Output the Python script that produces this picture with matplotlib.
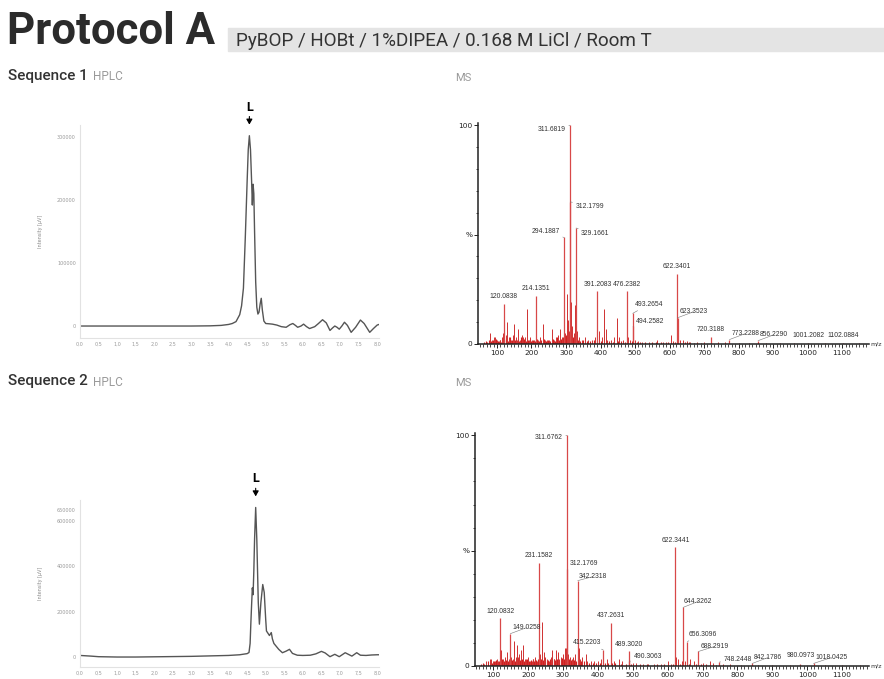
import matplotlib
matplotlib.use("Agg")
import matplotlib.pyplot as plt
import matplotlib.ticker as mticker
from matplotlib.patches import Rectangle

# ---- HPLC traces (retention time [min], intensity [uV]) ----
HPLC1_T = [0.0, 0.5, 1.0, 1.5, 2.0, 2.5, 3.0, 3.5, 3.8, 4.0, 4.1, 4.2, 4.3, 4.35, 4.4,
           4.45, 4.5, 4.53, 4.56, 4.59, 4.62, 4.64, 4.66, 4.68, 4.7, 4.73, 4.76, 4.79,
           4.82, 4.85, 4.88, 4.91, 4.95, 5.0, 5.1, 5.18, 5.3, 5.42, 5.55, 5.65, 5.73,
           5.8, 5.86, 5.95, 6.02, 6.1, 6.18, 6.25, 6.32, 6.42, 6.53, 6.63, 6.73, 6.8,
           6.86, 6.92, 6.98, 7.05, 7.12, 7.2, 7.3, 7.42, 7.55, 7.65, 7.8, 7.9, 8.0, 8.05]
HPLC1_I = [0, 0, 0, 0, 0, 0, 0, 300, 1000, 2500, 4000, 7000, 18000, 32000, 60000,
           140000, 230000, 280000, 302000, 280000, 230000, 192000, 225000, 210000, 150000,
           70000, 30000, 19000, 22000, 35000, 44000, 25000, 8000, 4000, 3500, 3000, 1500,
           -1000, -2000, 2000, 4000, 1000, -2000, 0, 3000, -1000, -4000, -2500, -1000, 4000,
           10000, 5000, -7000, -3000, 0, -2000, -5000, 0, 6000, 1000, -10000, -2000, 9500,
           4000, -10000, -4000, 1500, 2500]

HPLC2_T = [0.0, 0.3, 0.5, 1.0, 1.5, 2.0, 2.5, 3.0, 3.5, 4.0, 4.3, 4.5, 4.55, 4.58, 4.6,
           4.62, 4.64, 4.66, 4.68, 4.7, 4.73, 4.76, 4.8, 4.83, 4.87, 4.92, 4.96, 5.0,
           5.02, 5.06, 5.1, 5.15, 5.18, 5.22, 5.27, 5.35, 5.45, 5.55, 5.64, 5.72, 5.85,
           6.0, 6.2, 6.35, 6.5, 6.6, 6.73, 6.86, 6.98, 7.14, 7.32, 7.45, 7.55, 7.7, 7.85,
           8.0, 8.05]
HPLC2_I = [7000, 4000, 1500, 0, 0, 1000, 2000, 3000, 5000, 7000, 10000, 15000, 20000,
           60000, 150000, 230000, 305000, 275000, 380000, 520000, 660000, 520000, 240000,
           145000, 240000, 320000, 285000, 165000, 115000, 105000, 95000, 108000, 80000,
           60000, 50000, 34000, 19000, 26000, 34000, 16000, 8000, 7000, 8000, 14000,
           25000, 18000, 1500, 12000, 1500, 19000, 4000, 19000, 8000, 7000, 9000, 10000,
           10000]

HPLC_XTICKS = [0.0, 0.5, 1.0, 1.5, 2.0, 2.5, 3.0, 3.5, 4.0, 4.5, 5.0, 5.5, 6.0, 6.5,
               7.0, 7.5, 8.0]
HPLC1_YTICKS = [0, 100000, 200000, 300000]
HPLC2_YTICKS = [0, 200000, 400000, 600000, 650000]
HPLC1_PEAK = (4.56, 302000)
HPLC2_PEAK = (4.73, 660000)

# ---- MS spectra (m/z, relative intensity %) ----
MS1_LAB_MZ = [120.0838, 214.1351, 294.1887, 311.6819, 312.1799, 329.1661, 391.2083,
              476.2382, 493.2654, 494.2582, 622.3401, 623.3523, 720.3188, 773.2288,
              856.2290, 1001.2082, 1102.0884]
MS1_LAB_INT = [18.5, 22, 48.7, 100, 65, 53, 24.4, 24, 14, 8, 32, 12, 3, 2, 1.5, 0.6, 0.5]
MS1_MZ = [80, 85, 90, 95, 100, 105, 110, 115, 118, 125, 130, 135, 140, 145, 150, 155,
          158, 162, 168, 172, 176, 180, 187, 192, 197, 202, 208, 220, 226, 233, 238, 245,
          252, 258, 265, 272, 277, 283, 288, 298, 303, 305, 308, 315, 318, 322, 325, 333,
          338, 345, 355, 365, 375, 385, 395, 405, 410, 415, 420, 430, 440, 447, 455, 465,
          480, 485, 500, 510, 520, 540, 565, 580, 590, 603, 610, 630, 640, 650, 660, 680,
          700, 740, 760, 800, 830, 880, 920, 960, 1050, 1150]
MS1_INT = [5, 2, 3, 3, 2, 1.5, 2, 3, 5, 4, 10, 3, 2, 4, 9, 3, 2, 7, 2, 4, 3, 3, 16, 2, 3,
           2, 2, 2, 3, 9, 2, 2, 2, 7, 2, 3, 4, 7, 3, 5, 23, 11, 6, 19, 8, 5, 18, 6, 3, 2,
           3, 2, 2, 3, 6, 3, 16, 7, 2, 2, 3, 12, 3, 2, 3, 2, 2, 1.5, 1, 1, 2, 1, 1, 4, 1.5,
           2, 2, 1.5, 1, 1, 1, 0.8, 0.8, 0.6, 0.6, 0.5, 0.5, 0.4, 0.4, 0.3]
# baseline "grass" of the spectrum
MS1_NOISE_MZ = [62, 67, 72, 77, 83, 88, 93, 98, 103, 108, 113, 121, 127, 133, 138, 143,
                148, 153, 160, 165, 170, 174, 178, 183, 190, 195, 200, 205, 211, 217, 223,
                229, 236, 241, 248, 255, 262, 268, 274, 280, 286, 291, 296, 300, 310, 313,
                320, 328, 331, 336, 341, 350, 360, 370, 380, 390, 400, 425, 435, 450, 460,
                470, 490, 505, 515, 530, 550, 560, 575, 595, 615, 625, 645, 655, 670, 690]
MS1_NOISE_INT = [1, 1.5, 1, 2, 1.5, 2, 1, 2.5, 1.5, 2, 1, 2.5, 2, 1.5, 3, 2, 1.5, 2, 2.5,
                 1.5, 3, 2, 2.5, 1.5, 2, 2.5, 1.5, 2, 1.5, 2.5, 1.5, 2, 2.5, 1.5, 2, 1.5,
                 2.5, 1.5, 3, 2, 2.5, 3, 3.5, 4, 5, 4, 3, 3, 2.5, 2, 1.5, 2, 1.5, 1.5, 2,
                 1.5, 1.5, 1.5, 1, 1.5, 1.5, 1, 1.5, 1, 1, 1, 0.8, 1, 0.8, 0.8, 1, 0.8,
                 0.8, 0.8, 0.6, 0.6]

MS2_LAB_MZ = [120.0832, 149.0258, 231.1582, 311.6762, 312.1769, 342.2318, 415.2203,
              437.2631, 489.3020, 490.3063, 622.3441, 644.3262, 656.3096, 688.2919,
              748.2448, 842.1786, 980.0973, 1018.0425]
MS2_LAB_INT = [21, 14, 44.8, 100, 42, 37, 7, 18.7, 6.3, 2, 51.7, 25.4, 10.6, 6.3, 1.7,
               1.1, 0.7, 1.1]
MS2_MZ = [80, 90, 95, 100, 105, 110, 115, 122, 128, 135, 140, 145, 152, 157, 160, 165,
          168, 172, 175, 180, 185, 190, 195, 200, 205, 210, 215, 220, 225, 235, 240, 245,
          250, 255, 260, 265, 270, 275, 280, 285, 290, 295, 300, 305, 310, 315, 320, 325,
          330, 335, 345, 350, 355, 365, 370, 380, 390, 400, 410, 425, 445, 460, 470, 500,
          510, 530, 545, 560, 580, 600, 610, 625, 630, 640, 650, 665, 675, 700, 720, 730,
          760, 780, 810, 860, 900, 950, 1050, 1100, 1150]
MS2_INT = [2, 3, 3, 2, 2, 3, 2, 7, 3, 4, 6, 3, 4, 3, 11, 4, 9, 4, 5, 7, 9, 3, 3, 4, 2, 2,
           3, 4, 2, 5, 19, 6, 4, 3, 2, 4, 7, 3, 7, 6, 3, 4, 5, 8, 8, 5, 4, 3, 4, 5, 8, 3,
           4, 5, 2, 2, 2, 2, 3, 3, 2, 3, 2, 1.5, 1.5, 1, 1, 1, 1, 2, 1, 4, 3, 2, 2, 3, 2,
           1.5, 2, 1.5, 1, 0.8, 0.6, 0.6, 0.5, 0.4, 0.4, 0.3, 0.3]
MS2_NOISE_MZ = [65, 70, 75, 85, 98, 102, 108, 113, 118, 125, 131, 138, 143, 148, 155,
                162, 170, 178, 183, 188, 193, 198, 203, 208, 213, 218, 223, 228, 233, 238,
                243, 248, 253, 258, 263, 268, 273, 278, 283, 288, 293, 298, 303, 308, 313,
                318, 323, 328, 333, 338, 348, 353, 360, 375, 385, 395, 405, 420, 430, 440,
                450, 465, 480, 495, 520, 540, 570, 590, 615, 635, 660, 680, 695, 710, 740]
MS2_NOISE_INT = [1, 1.5, 1, 2, 1.5, 2, 2.5, 1.5, 2, 3, 2, 2.5, 2, 3, 2.5, 2, 3, 2.5, 3,
                 2, 2.5, 3, 2, 2.5, 3, 2, 2.5, 3, 2, 3, 2.5, 3, 2, 2.5, 3, 2.5, 3, 2.5,
                 3, 2.5, 3, 3.5, 3, 4, 3.5, 3, 2.5, 3, 2.5, 2, 2.5, 2, 2, 1.5, 1.5, 1.5,
                 1.5, 1.5, 1.5, 1.2, 1.2, 1, 1, 1, 0.8, 0.8, 0.8, 0.8, 1, 1, 1, 0.8, 0.8,
                 0.8, 0.6]
MS_XTICKS = [100, 200, 300, 400, 500, 600, 700, 800, 900, 1000, 1100]

# label placement: (dx px, dy px, ha, connector)
MS1_LAB_POS = [(0, 4, "center", False), (0, 4, "center", False), (-4, 6, "right", True),
               (-4, -4, "right", True), (5, -5, "left", True), (5, -5, "left", True),
               (0, 3, "center", False), (0, 3, "center", False), (2, 9, "left", True),
               (3, 5, "left", True), (0, 4, "center", False), (2, 6, "left", True),
               (0, 4, "center", False), (2, 6, "left", True), (2, 6, "left", True),
               (0, 4, "center", False), (0, 4, "center", False)]
MS2_LAB_POS = [(0, 3, "center", False), (2, 6, "left", True), (0, 4, "center", False),
               (-4, -2, "right", True), (3, 6, "left", True), (1, 4, "left", True),
               (-2, 7, "right", True), (0, 4, "center", False), (0, 3, "center", False),
               (4, 5, "left", True), (0, 3, "center", False), (1, 6, "left", True),
               (1, 7, "left", True), (2, 5, "left", True), (4, 3, "left", True),
               (2, 6, "left", True), (0, 5, "center", False), (2, 6, "left", True)]

W, H = 884, 679
fig = plt.figure(figsize=(W / 100, H / 100), dpi=100)


def px_rect(x0, y0, x1, y1):
    # pixel box (top-left origin) -> figure fraction [left, bottom, width, height]
    return [x0 / W, 1 - y1 / H, (x1 - x0) / W, (y1 - y0) / H]


def fig_text(x, y, s, **kw):
    fig.text(x / W, 1 - y / H, s, **kw)


# ---- header ----
fig_text(7, 32, "Protocol A", fontsize=31.5, fontweight="bold", color="#2b2b2b",
         family="Roboto", va="center")
fig.patches.append(Rectangle((228 / W, 1 - 51 / H), 1 - 228 / W, 23 / H,
                             transform=fig.transFigure, color="#e4e4e4", zorder=0))
fig_text(236, 41, "PyBOP / HOBt / 1%DIPEA / 0.168 M LiCl / Room T", fontsize=13.6,
         color="#333333", family="Roboto", va="center")

for yy, name in [(76, "Sequence 1"), (381, "Sequence 2")]:
    fig_text(8, yy, name, fontsize=11, color="#333333", family="Roboto",
             fontweight="medium", va="center")
    fig_text(93, yy + 1, "HPLC", fontsize=8.5, color="#9a9a9a", family="Roboto", va="center")
    fig_text(455, yy + 2, "MS", fontsize=8, color="#9a9a9a", family="Roboto", va="center")


def draw_hplc(rect, t, inten, yticks, ylim, peak):
    ax = fig.add_axes(rect)
    ax.plot(t, inten, color="#555555", lw=1.0)
    ax.set_xlim(0, 8.05)
    ax.set_ylim(*ylim)
    ax.set_xticks(HPLC_XTICKS)
    ax.set_xticklabels([f"{v:.1f}".replace(".", ",") for v in HPLC_XTICKS])
    ax.set_yticks(yticks)
    ax.set_yticklabels([str(v) for v in yticks])
    ax.tick_params(labelsize=3.5, colors="#9a9a9a", length=0, pad=3)
    for s in ["top", "right"]:
        ax.spines[s].set_visible(False)
    for s in ["left", "bottom"]:
        ax.spines[s].set_color("#e2e2e2")
        ax.spines[s].set_linewidth(0.8)
    ax.set_ylabel("Intensity [µV]", fontsize=3.5, color="#8a8a8a", labelpad=10)
    ax.annotate("L", xy=peak, xytext=(0, 22), textcoords="offset pixels", ha="center",
                va="bottom", fontsize=9, fontweight="bold", family="Roboto",
                arrowprops=dict(arrowstyle="-|>,head_length=0.35,head_width=0.2",
                                color="black", lw=0.8, shrinkA=0, shrinkB=8))
    ax.patch.set_alpha(0)
    return ax


draw_hplc(px_rect(80, 125, 379, 338), HPLC1_T, HPLC1_I, HPLC1_YTICKS,
          (-19000, 319000), HPLC1_PEAK)
draw_hplc(px_rect(80, 500, 379, 667), HPLC2_T, HPLC2_I, HPLC2_YTICKS,
          (-44000, 693000), HPLC2_PEAK)


def draw_ms(rect, xlim, mz, inten, noise_mz, noise_int, lab_mz, lab_int, lab_pos):
    ax = fig.add_axes(rect)
    ax.vlines(noise_mz, 0, noise_int, color="#d02020", lw=0.8)
    ax.vlines(mz, 0, inten, color="#d03030", lw=0.7)
    ax.vlines(lab_mz, 0, lab_int, color="#d84848", lw=0.9)
    ax.set_xlim(*xlim)
    ax.set_ylim(0, 101)
    ax.set_xticks(MS_XTICKS)
    ax.xaxis.set_minor_locator(mticker.MultipleLocator(10))
    ax.set_yticks([0, 50, 100])
    ax.set_yticklabels(["0", "%", "100"])
    ax.yaxis.set_minor_locator(mticker.MultipleLocator(10))
    ax.tick_params(labelsize=5.3, colors="#222222", length=3, width=0.7, pad=1)
    ax.tick_params(which="minor", length=1.8, width=0.5)
    for s in ["top", "right"]:
        ax.spines[s].set_visible(False)
    for s in ["left", "bottom"]:
        ax.spines[s].set_linewidth(1.1)
        ax.spines[s].set_color("#222222")
    for x, y, (dx, dy, ha, conn) in zip(lab_mz, lab_int, lab_pos):
        props = None
        if conn:
            props = dict(arrowstyle="-", color="#777777", lw=0.4, shrinkA=0, shrinkB=0)
        ax.annotate(f"{x:.4f}", xy=(x, y), xytext=(dx, dy), textcoords="offset pixels",
                    ha=ha, va="bottom" if not conn else "center", fontsize=4.9,
                    color="#333333", family="Liberation Sans", arrowprops=props)
    ax.text(1.004, 0, "m/z", transform=ax.transAxes, fontsize=4.5, va="center",
            ha="left", color="#333333", clip_on=False)
    ax.patch.set_alpha(0)
    return ax


draw_ms(px_rect(478, 123, 869, 344), (45, 1178), MS1_MZ, MS1_INT, MS1_NOISE_MZ,
        MS1_NOISE_INT, MS1_LAB_MZ, MS1_LAB_INT, MS1_LAB_POS)
draw_ms(px_rect(475, 433, 869, 666), (48, 1177), MS2_MZ, MS2_INT, MS2_NOISE_MZ,
        MS2_NOISE_INT, MS2_LAB_MZ, MS2_LAB_INT, MS2_LAB_POS)

fig.savefig("out.png", dpi=100)
